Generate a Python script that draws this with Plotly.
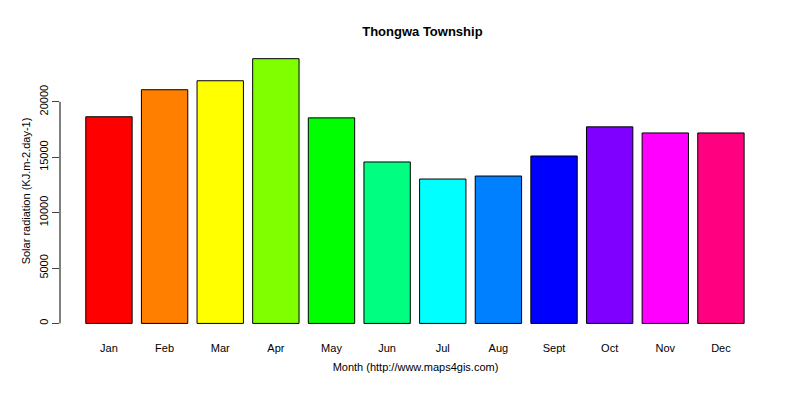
import plotly.graph_objects as go

months = ["Jan","Feb","Mar","Apr","May","Jun","Jul","Aug","Sept","Oct","Nov","Dec"]
values = [18650, 21090, 21900, 23890, 18550, 14570, 13030, 13300, 15110, 17740, 17190, 17190]
colors = ["#FF0000","#FF8000","#FFFF00","#80FF00","#00FF00","#00FF80",
          "#00FFFF","#0080FF","#0000FF","#8000FF","#FF00FF","#FF0080"]
yticks = [0, 5000, 10000, 15000, 20000]

fig = go.Figure(go.Bar(x=months, y=values, marker=dict(color=colors, line=dict(color="black", width=1))))
fig.update_layout(
    width=800, height=400, plot_bgcolor="white", paper_bgcolor="white",
    margin=dict(l=52, r=37, t=40, b=74), bargap=1-1/1.2, showlegend=False,
    font=dict(family="Liberation Sans, Arial", size=11, color="black"),
    title=dict(text="<b>Thongwa Township</b>", x=0.518, xanchor="center", y=0.9425, yanchor="middle", font=dict(size=13)),
)
fig.update_xaxes(range=[-0.88, 11.9], showline=False, showgrid=False, ticks="", ticklabelstandoff=6, automargin=False,
                 title=dict(text="Month (http://www.maps4gis.com)", standoff=10, font=dict(size=11)))
fig.update_yaxes(range=[-956, 24856], tickvals=yticks, ticktext=[str(v) for v in yticks], tickangle=-90,
                 ticks="outside", ticklen=7, showgrid=False, zeroline=False, showline=False, automargin=False,
                 title=dict(text="Solar radiation (KJ.m-2.day-1)", standoff=4, font=dict(size=11)))
fig.add_shape(type="line", xref="paper", yref="y", x0=0, x1=0, y0=0, y1=20000, line=dict(color="black", width=1))
fig.write_html("out.html")
